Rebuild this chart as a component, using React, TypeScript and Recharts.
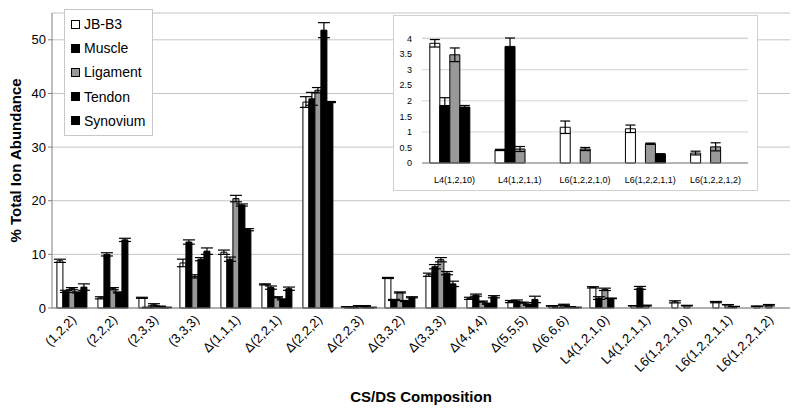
import React from 'react'
import { BarChart, Bar, XAxis, YAxis, CartesianGrid, ErrorBar, Legend } from 'recharts'

const categories = [
  '(1,2,2)', '(2,2,2)', '(2,3,3)', '(3,3,3)', 'Δ(1,1,1)', 'Δ(2,2,1)', 'Δ(2,2,2)', 'Δ(2,2,3)', 'Δ(3,3,2)',
  'Δ(3,3,3)', 'Δ(4,4,4)', 'Δ(5,5,5)', 'Δ(6,6,6)', 'L4(1,2,1,0)', 'L4(1,2,1,1)', 'L6(1,2,2,1,0)',
  'L6(1,2,2,1,1)', 'L6(1,2,2,1,2)',
]
const insetCategories = ['L4(1,2,10)', 'L4(1,2,1,1)', 'L6(1,2,2,1,0)', 'L6(1,2,2,1,1)', 'L6(1,2,2,1,2)']

const jbB3 = [8.8, 1.9, 1.9, 8.4, 10.4, 4.4, 38.4, 0.2, 5.6, 6.2, 1.8, 1.2, 0.4, 3.85, 0.42, 1.15, 1.1, 0.32]
const jbB3Err = [0.3, 0.2, 0.1, 0.7, 0.4, 0.1, 1.0, 0.05, 0.1, 0.3, 0.2, 0.2, 0.05, 0.12, 0.02, 0.2, 0.12, 0.06]
const muscle = [3.1, 10.0, 0.1, 12.3, 9.1, 3.8, 39.0, 0.1, 1.5, 7.7, 2.4, 1.3, 0.1, 1.85, 3.75, 0, 0, 0]
const muscleErr = [0.2, 0.3, 0.05, 0.4, 0.4, 0.3, 1.2, 0.05, 0.1, 0.4, 0.2, 0.2, 0.05, 0.25, 0.27, 0, 0, 0]
const ligament = [3.6, 3.6, 0.6, 5.9, 20.4, 2.0, 40.6, 0.4, 2.9, 9.0, 1.2, 1.0, 0.6, 3.48, 0.45, 0.45, 0.62, 0.52]
const ligamentErr = [0.2, 0.2, 0.2, 0.3, 0.6, 0.1, 0.5, 0.05, 0.1, 0.4, 0.1, 0.1, 0.1, 0.22, 0.08, 0.05, 0.02, 0.13]
const tendon = [2.9, 2.9, 0.3, 9.1, 19.2, 1.6, 51.8, 0.4, 1.3, 6.5, 0.8, 0.6, 0.2, 1.8, 0, 0, 0.28, 0]
const tendonErr = [0.1, 0.1, 0.05, 0.3, 0.2, 0.1, 1.4, 0.05, 0.1, 0.3, 0.1, 0.1, 0.05, 0.05, 0, 0, 0.02, 0]
const synovium = [3.9, 12.7, 0.1, 10.6, 14.6, 3.6, 38.4, 0.1, 2.0, 4.5, 2.1, 1.6, 0.1, 0, 0, 0, 0, 0]
const synoviumErr = [0.6, 0.3, 0.05, 0.6, 0.2, 0.3, 0.1, 0.05, 0.1, 0.5, 0.2, 0.6, 0.05, 0, 0, 0, 0, 0]

const mainTicks = [0, 10, 20, 30, 40, 50]
const insetTicks = [0, 0.5, 1, 1.5, 2, 2.5, 3, 3.5, 4]

const FONT = '"Liberation Sans", Arial, sans-serif'

const series = [
  { key: 'jb', name: 'JB-B3', fill: '#ffffff' },
  { key: 'muscle', name: 'Muscle', fill: '#000000' },
  { key: 'ligament', name: 'Ligament', fill: '#999999' },
  { key: 'tendon', name: 'Tendon', fill: '#000000' },
  { key: 'synovium', name: 'Synovium', fill: '#000000' },
]

const rows = categories.map((c, i) => ({
  name: c,
  jb: jbB3[i], jbErr: jbB3Err[i],
  muscle: muscle[i], muscleErr: muscleErr[i],
  ligament: ligament[i], ligamentErr: ligamentErr[i],
  tendon: tendon[i], tendonErr: tendonErr[i],
  synovium: synovium[i], synoviumErr: synoviumErr[i],
}))

const insetRows = insetCategories.map((c, i) => ({ ...rows[categories.length - insetCategories.length + i], name: c }))

const edgeTicks = (n: number) => Array.from({ length: n + 1 }, (_, i) => i)

const LegendBox = () => (
  <div
    style={{
      border: '1px solid #c8c8c8',
      background: '#fff',
      padding: '2px 6px',
      fontFamily: FONT,
      fontSize: 14,
      color: '#000',
    }}
  >
    {series.map((s) => (
      <div key={s.key} style={{ display: 'flex', alignItems: 'center', height: 24.2 }}>
        <span
          style={{
            width: 7,
            height: 7,
            border: '1px solid #000',
            background: s.fill,
            marginRight: 4,
            display: 'inline-block',
          }}
        />
        {s.name}
      </div>
    ))}
  </div>
)

const InsetChart = () => (
  <div
    style={{
      position: 'absolute',
      left: 393,
      top: 15,
      width: 365,
      height: 176,
      background: '#fff',
      border: '1px solid #d0d0d0',
      boxSizing: 'border-box',
    }}
  >
    <BarChart
      width={363}
      height={174}
      data={insetRows}
      margin={{ top: 22, right: 9, left: 0, bottom: 0 }}
      barCategoryGap="12%"
      barGap={0}
    >
      <CartesianGrid vertical={false} stroke="#d4d4d4" />
      <XAxis
        xAxisId="edge"
        type="number"
        domain={[0, insetCategories.length]}
        ticks={edgeTicks(insetCategories.length)}
        tick={false}
        axisLine={false}
        tickLine={{ stroke: '#c0c0c0' }}
        tickSize={3}
        height={0}
      />
      <XAxis
        dataKey="name"
        interval={0}
        tickLine={false}
        axisLine={{ stroke: '#808080' }}
        tick={{ fontSize: 9, fill: '#000', fontFamily: FONT }}
        tickMargin={8}
        height={27}
      />
      <YAxis
        domain={[0, 4]}
        ticks={insetTicks}
        axisLine={false}
        tickLine={false}
        tick={{ fontSize: 9, fill: '#000', fontFamily: FONT }}
        tickMargin={4}
        width={28}
      />
      {series.map((s) => (
        <Bar key={s.key} dataKey={s.key} fill={s.fill} stroke="#000" strokeWidth={1} isAnimationActive={false}>
          <ErrorBar dataKey={`${s.key}Err`} width={5} stroke="#000" strokeWidth={1.2} direction="y" />
        </Bar>
      ))}
    </BarChart>
  </div>
)

export default function App() {
  return (
    <div style={{ position: 'absolute', left: 0, top: 0, width: 800, height: 410, background: '#fff' }}>
      <BarChart
        width={800}
        height={410}
        data={rows}
        margin={{ top: 13, right: 10, left: 0, bottom: 0 }}
        barCategoryGap="12%"
        barGap={0}
      >
        <CartesianGrid vertical={false} stroke="#c4c4c4" />
        <XAxis
          xAxisId="edge"
          type="number"
          domain={[0, categories.length]}
          ticks={edgeTicks(categories.length)}
          tick={false}
          axisLine={false}
          tickLine={{ stroke: '#a0a0a0' }}
          tickSize={4}
          height={0}
        />
        <XAxis
          dataKey="name"
          interval={0}
          tickLine={false}
          axisLine={{ stroke: '#808080' }}
          angle={-45}
          textAnchor="end"
          tick={{ fontSize: 13, fill: '#000', fontFamily: FONT, dx: -2 }}
          tickMargin={0}
          height={102}
          label={{
            value: 'CS/DS Composition',
            position: 'insideBottom',
            offset: 8,
            style: { fontSize: 15, fontWeight: 'bold', fill: '#000', fontFamily: FONT },
          }}
        />
        <YAxis
          domain={[0, 55]}
          ticks={mainTicks}
          axisLine={{ stroke: '#808080' }}
          tickLine={{ stroke: '#808080' }}
          tickSize={4}
          tick={{ fontSize: 13, fill: '#000', fontFamily: FONT }}
          width={52}
          label={{
            value: '% Total Ion Abundance',
            angle: -90,
            position: 'center',
            dx: -10,
            style: { fontSize: 15, fontWeight: 'bold', fill: '#000', fontFamily: FONT, textAnchor: 'middle' },
          }}
        />
        <Legend
          layout="vertical"
          align="center"
          verticalAlign="middle"
          content={() => <LegendBox />}
          wrapperStyle={{ position: 'absolute', left: 64, top: 9, width: 89, height: 'auto' }}
        />
        {series.map((s) => (
          <Bar key={s.key} dataKey={s.key} name={s.name} fill={s.fill} stroke="#000" strokeWidth={1} isAnimationActive={false}>
            <ErrorBar dataKey={`${s.key}Err`} width={6} stroke="#000" strokeWidth={1.2} direction="y" />
          </Bar>
        ))}
      </BarChart>
      <InsetChart />
    </div>
  )
}
